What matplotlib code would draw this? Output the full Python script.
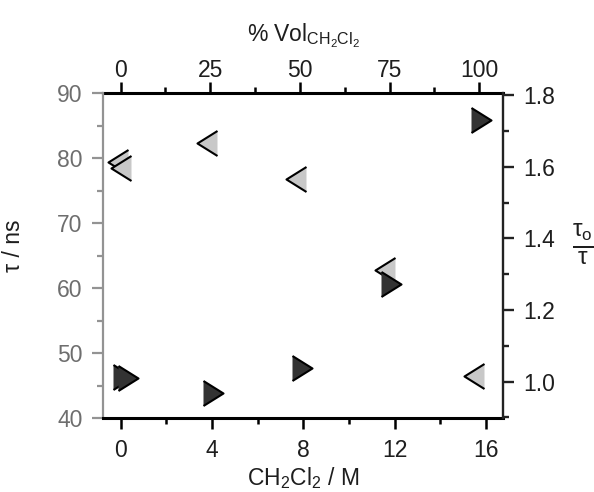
import matplotlib
matplotlib.use("Agg")
import matplotlib.pyplot as plt
from matplotlib.ticker import MultipleLocator

plt.rcParams['font.family'] = ['Liberation Sans', 'DejaVu Sans']
plt.rcParams['mathtext.fontset'] = 'custom'
plt.rcParams['mathtext.rm'] = 'Liberation Sans'
plt.rcParams['mathtext.it'] = 'Liberation Sans'
plt.rcParams['mathtext.bf'] = 'Liberation Sans:bold'

# tau (ns), left axis, light grey left-pointing triangles
tau_conc = [-0.12, 0.02, 3.77, 7.68, 11.59, 15.48]
tau_ns = [79.4, 78.5, 82.3, 76.8, 62.9, 46.6]

# tau0 / tau, right axis, dark right-pointing triangles
ratio_conc = [0.10, 0.30, 4.03, 7.93, 11.84, 15.78]
ratio_val = [1.012, 1.009, 0.968, 1.037, 1.273, 1.730]

M_PURE = 15.7  # molarity of neat CH2Cl2 -> 100 % vol

light = '#c8c8c8'
dark = '#333333'
grey_axis = '#939393'
grey_text = '#6e6e6e'
txt = '#1e1e1e'
fs = 16.5

tri_right = [(-0.8, -1), (0.8, 0), (-0.8, 1)]
tri_left = [(0.8, -1), (-0.8, 0), (0.8, 1)]

fig = plt.figure(figsize=(5.94, 4.92), dpi=100)
ax = fig.add_axes([0.1739, 0.1494, 0.6737, 0.661])
ax2 = ax.twinx()

ax.plot(tau_conc, tau_ns, linestyle='none', marker=tri_left, markersize=18,
        markerfacecolor=light, markeredgecolor='black', markeredgewidth=1.5)
ax2.plot(ratio_conc, ratio_val, linestyle='none', marker=tri_right, markersize=18,
         markerfacecolor=dark, markeredgecolor='black', markeredgewidth=1.5)

ax.set_xlim(-0.76, 16.76)
ax.set_ylim(40, 90)
ax2.set_ylim(0.897, 1.805)

ax.xaxis.set_major_locator(MultipleLocator(4))
ax.xaxis.set_minor_locator(MultipleLocator(2))
ax.yaxis.set_major_locator(MultipleLocator(10))
ax.yaxis.set_minor_locator(MultipleLocator(5))
ax2.yaxis.set_major_locator(MultipleLocator(0.2))
ax2.yaxis.set_minor_locator(MultipleLocator(0.1))

top = ax.secondary_xaxis('top', functions=(lambda m: m * 100 / M_PURE,
                                           lambda p: p * M_PURE / 100))
top.xaxis.set_major_locator(MultipleLocator(25))
top.xaxis.set_minor_locator(MultipleLocator(12.5))

# spines
for a in (ax, ax2):
    a.spines['top'].set_visible(False)
ax.spines['left'].set_color(grey_axis)
ax.spines['left'].set_linewidth(1.6)
ax.spines['bottom'].set_color('black')
ax.spines['bottom'].set_linewidth(2.2)
ax2.spines['left'].set_visible(False)
ax2.spines['bottom'].set_visible(False)
ax2.spines['right'].set_color('#222222')
ax2.spines['right'].set_linewidth(1.7)
ax.spines['right'].set_visible(False)
top.spines['top'].set_color('black')
top.spines['top'].set_linewidth(2.2)

# ticks
ax.tick_params(axis='x', which='major', direction='out', length=8, width=1.8,
               color='black', labelsize=fs, labelcolor=txt, pad=7)
ax.tick_params(axis='x', which='minor', direction='out', length=4.5, width=1.8,
               color='black')
ax.tick_params(axis='y', which='major', direction='out', length=8, width=1.6,
               color=grey_axis, labelsize=fs, labelcolor=grey_text, pad=7)
ax.tick_params(axis='y', which='minor', direction='out', length=4.5, width=1.6,
               color=grey_axis)
ax2.tick_params(axis='y', which='major', direction='out', length=8, width=1.7,
                color='#222222', labelsize=fs, labelcolor=txt, pad=6)
ax2.tick_params(axis='y', which='minor', direction='out', length=4.5, width=1.7,
                color='#222222')
top.tick_params(axis='x', which='major', direction='out', length=8, width=1.8,
                color='black', labelsize=fs, labelcolor=txt, pad=0)
top.tick_params(axis='x', which='minor', direction='out', length=4.5, width=1.8,
                color='black')

ax.set_xlabel(r'CH$_\mathregular{2}$Cl$_\mathregular{2}$ / M', fontsize=fs,
              color=txt, labelpad=2)
ax.set_ylabel('τ / ns', fontsize=fs, color=txt)
ax.yaxis.set_label_coords(-0.196, 0.53)
top.set_xlabel(r'% Vol$_\mathregular{CH_2Cl_2}$', fontsize=fs, color=txt,
               labelpad=13)
ax2.set_ylabel(r'$\frac{\mathregular{τ_o}}{\mathregular{τ}}$', fontsize=25,
               color=txt, rotation=0, va='center', ha='center')
ax2.yaxis.set_label_coords(1.199, 0.535)

fig.savefig('out.png', dpi=100)
